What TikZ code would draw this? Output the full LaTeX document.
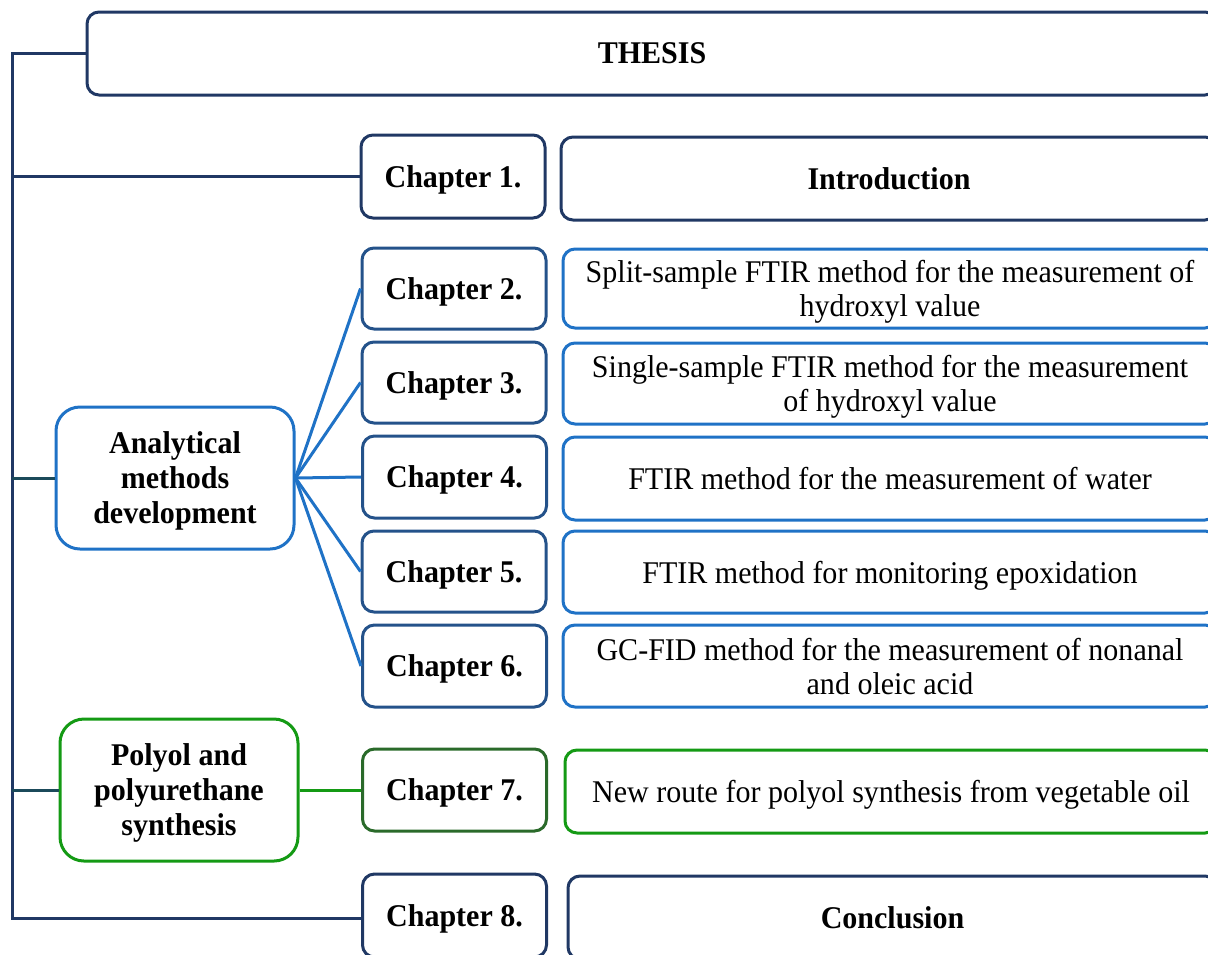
\documentclass[tikz,border=0pt]{standalone}
\usepackage{fontspec}
\setmainfont{Liberation Serif}[FakeStretch=0.95]
\definecolor{navy}{HTML}{203864}
\definecolor{tealnavy}{HTML}{1B4A5A}
\definecolor{bblue}{HTML}{1F72C6}
\definecolor{chblue}{HTML}{24528A}
\definecolor{bgreen}{HTML}{149A14}
\definecolor{dgreen}{HTML}{2A6A2A}
\begin{document}
\begin{tikzpicture}[x=0.5pt,y=-0.5pt,
  box/.style={draw, line width=1.5pt, rounded corners=6pt, inner sep=2pt, align=center,
    text depth=0pt, font={\fontsize{15.8}{17}\selectfont}},
  chbox/.style={box, font={\fontsize{15.8}{17}\selectfont\bfseries}, minimum width=92pt},
  bigbox/.style={box, rounded corners=12pt, minimum width=119pt, minimum height=71pt,
    font={\fontsize{15.8}{17.5}\selectfont\bfseries}},
  navyline/.style={navy, line width=1.5pt},
  tealline/.style={tealnavy, line width=1.5pt},
  blueline/.style={bblue, line width=1.5pt},
  greenline/.style={bgreen, line width=1.5pt}]
\useasboundingbox (0,0) rectangle (1208,954);
\clip (0,0) rectangle (1208,954);
% boxes
\node[box, draw=navy, minimum width=565pt, minimum height=41.5pt, font={\fontsize{15.8}{17}\selectfont\bfseries}] (thesis) at (652,53.5) {THESIS};
\node[chbox, draw=navy, minimum height=41.5pt] (ch1) at (453,176.5) {Chapter 1.};
\node[box, draw=navy, minimum width=328pt, minimum height=41.5pt, font={\fontsize{15.8}{17}\selectfont\bfseries}] (t1) at (889,178.5) {Introduction};
\node[chbox, draw=chblue, minimum height=40.5pt] (ch2) at (454,288.5) {Chapter 2.};
\node[box, draw=bblue, minimum width=327pt, minimum height=39.5pt] (t2) at (890,288.5) {Split-sample FTIR method for the measurement of\\hydroxyl value};
\node[chbox, draw=chblue, minimum height=40.5pt] (ch3) at (454,382.5) {Chapter 3.};
\node[box, draw=bblue, minimum width=327pt, minimum height=40.5pt] (t3) at (890,383.5) {Single-sample FTIR method for the measurement\\of hydroxyl value};
\node[chbox, draw=chblue, minimum height=41pt] (ch4) at (454.5,477) {Chapter 4.};
\node[box, draw=bblue, minimum width=327pt, minimum height=41.5pt] (t4) at (890,478.5) {FTIR method for the measurement of water};
\node[chbox, draw=chblue, minimum height=40.5pt] (ch5) at (454,571.5) {Chapter 5.};
\node[box, draw=bblue, minimum width=327pt, minimum height=41pt] (t5) at (890,572) {FTIR method for monitoring epoxidation};
\node[chbox, draw=chblue, minimum height=41pt] (ch6) at (454.5,666) {Chapter 6.};
\node[box, draw=bblue, minimum width=327pt, minimum height=41pt] (t6) at (890,666) {GC-FID method for the measurement of nonanal\\and oleic acid};
\node[bigbox, draw=bblue] (ana) at (175,478) {Analytical\\methods\\development};
\node[bigbox, draw=bgreen] (poly) at (179,790) {Polyol and\\polyurethane\\synthesis};
\node[chbox, draw=dgreen, minimum height=41pt] (ch7) at (454.5,790) {Chapter 7.};
\node[box, draw=bgreen, minimum width=326pt, minimum height=41.5pt] (t7) at (891,791.5) {New route for polyol synthesis from vegetable oil};
\node[chbox, draw=navy, minimum height=41.5pt] (ch8) at (454.5,915.5) {Chapter 8.};
\node[box, draw=navy, minimum width=324.5pt, minimum height=41.5pt, font={\fontsize{15.8}{17}\selectfont\bfseries}] (t8) at (892.5,917.5) {Conclusion};
% connectors
\coordinate (trunkbot) at (12,918);
\draw[navyline] (thesis.west) -| (trunkbot) -- (trunkbot -| ch8.west);
\draw[navyline] (ch1.west) -- (ch1.west -| trunkbot);
\draw[tealline] (ana.west) -- (ana.west -| trunkbot);
\draw[tealline] (poly.west) -- (poly.west -| trunkbot);
\draw[greenline] (poly.east) -- (ch7.west);
\foreach \c in {ch2,ch3,ch4,ch5,ch6}
  \draw[blueline] (ana.east) -- (\c.west);
\end{tikzpicture}
\end{document}
